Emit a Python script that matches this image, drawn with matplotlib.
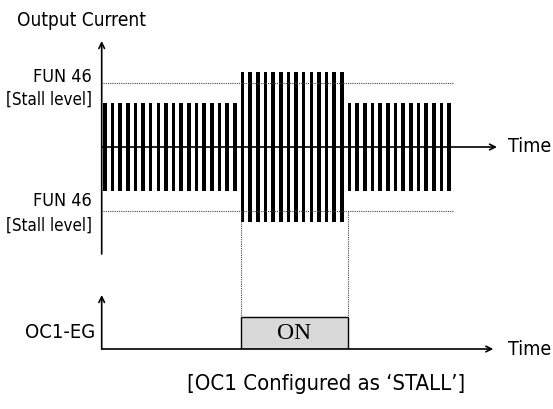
"""Output current vs. OC1-EG timing diagram (OC1 configured as STALL)."""
import matplotlib
matplotlib.use('Agg')
import matplotlib.pyplot as plt
from matplotlib import font_manager

# data
seg_bars = [18, 14, 14]           # bars per segment: normal / stall / normal
seg_amp = [1.0, 1.70, 1.0]        # current amplitude per segment
stall_level = 1.455               # FUN 46 stall level
oc1_on_level = 1.0                # OC1-EG output when ON

# look for a narrow sans face (reference uses an Arial Narrow style font)
narrow = None
for f in font_manager.fontManager.ttflist:
    tag = (f.name + " " + f.fname).lower()
    if f.weight in (400, "normal", "regular") and f.style == "normal" and \
            ("narrow" in tag or "condensed" in tag or f.stretch == "condensed") and \
            "semi" not in tag and "extra" not in tag and "mono" not in tag and "serif" not in f.name.lower():
        narrow = f.fname
        break
SANS = dict(fname=narrow) if narrow else dict(family="Liberation Sans")

W, H = 553, 410
fig = plt.figure(figsize=(W / 100, H / 100), dpi=100)

def px_axes(x0, x1, y_top, y_bot):
    return fig.add_axes([x0 / W, 1 - y_bot / H, (x1 - x0) / W, (y_bot - y_top) / H])

# shared time scale: one unit per bar
pitch = 7.65
x_ax = 101.7
t_max = (497 - x_ax) / pitch
bar_w = 0.47

# ---- upper: output current ----
ax = px_axes(x_ax, 497, 42, 255)
ax.set_xlim(0, t_max)
ax.set_ylim(-(255 - 148) / 44, (148 - 42) / 44)
ax.axis("off")

t, amp = [], []
i = 0
for n, a in zip(seg_bars, seg_amp):
    for _ in range(n):
        t.append(i + 0.4)
        amp.append(a)
        i += 1
ax.bar(t, [2 * a for a in amp], bottom=[-a for a in amp], width=bar_w,
       color="black", linewidth=0)

t_end = t[-1] + 0.6
for lvl in (stall_level, -stall_level):
    ax.plot([0.2, t_end], [lvl, lvl], color="#444444", lw=0.8, ls=(0, (1, 1)))

lo, hi = ax.get_ylim()
arrow = dict(arrowstyle="->", lw=1.2, color="black", shrinkA=0, shrinkB=0)
ax.annotate("", xy=(0, hi), xytext=(0, lo), arrowprops=arrow)
ax.annotate("", xy=(t_max, 0), xytext=(0, 0), arrowprops=arrow)

# ---- lower: OC1-EG ----
on_start = seg_bars[0] + 0.17
on_end = seg_bars[0] + seg_bars[1] + 0.17
ax2 = px_axes(x_ax, 497, 296, 350)
ax2.set_xlim(0, t_max)
ax2.set_ylim(0, (350 - 296) / 32.3)
ax2.axis("off")
ax2.bar(on_start, oc1_on_level, width=on_end - on_start, align="edge",
        color="#d9d9d9", edgecolor="black", linewidth=1.0)
ax2.text((on_start + on_end) / 2, oc1_on_level / 2, "ON", ha="center", va="center",
         fontsize=17, family="Liberation Serif")
lo2, hi2 = ax2.get_ylim()
ax2.annotate("", xy=(0, hi2), xytext=(0, 0), arrowprops=arrow)
ax2.annotate("", xy=((493.3 - x_ax) / pitch, 0), xytext=(0, 0), arrowprops=arrow)

# dotted drop lines from the stall band down to the ON box
for tx in (on_start, on_end):
    x_fig = (x_ax + tx * pitch) / W
    fig.add_artist(plt.Line2D([x_fig, x_fig], [1 - 213 / H, 1 - 317.7 / H],
                              color="#444444", lw=0.8, ls=(0, (1, 1))))

# ---- labels ----
def ftext(x, y, s, size=13, **kw):
    fp = font_manager.FontProperties(size=size, **SANS)
    fig.text(x / W, 1 - y / H, s, va="center", fontproperties=fp, **kw)

ftext(17, 21, "Output Current", ha="left", size=13.7)
ftext(92, 77, "FUN 46", ha="right")
ftext(92, 100, "[Stall level]", ha="right", size=12.2)
ftext(92, 201, "FUN 46", ha="right")
ftext(92, 226, "[Stall level]", ha="right", size=12.2)
ftext(95, 333, "OC1-EG", ha="right", size=14.5)
ftext(508, 147, "Time", ha="left", size=14)
ftext(508, 350, "Time", ha="left", size=14)
ftext(326, 384, "[OC1 Configured as \u2018STALL\u2019]", ha="center", size=15.8)

fig.savefig("out.png", dpi=100, facecolor="white")
